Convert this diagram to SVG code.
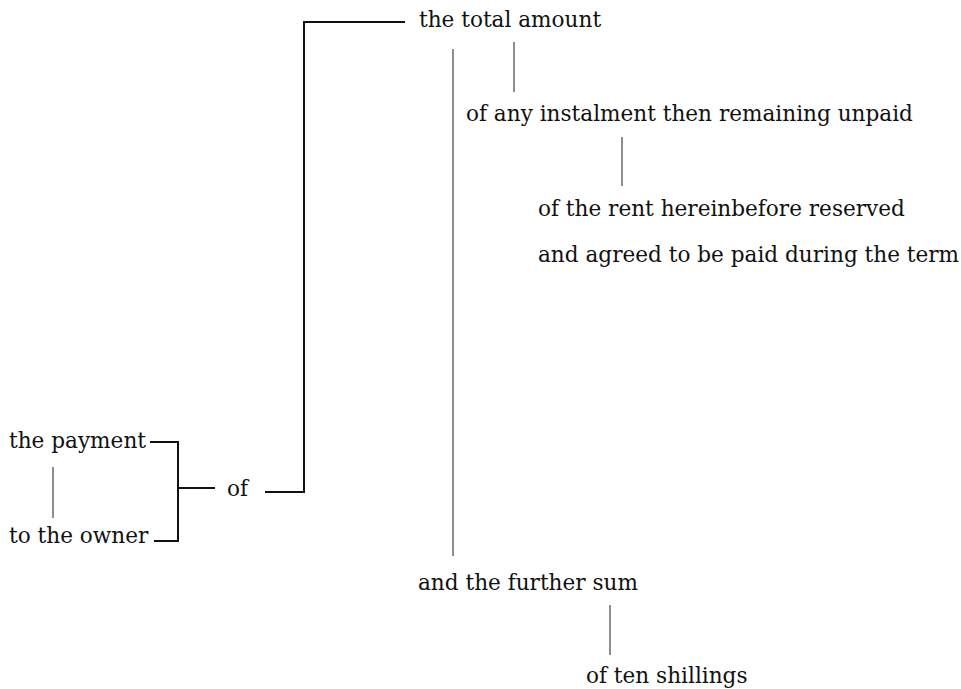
<svg xmlns="http://www.w3.org/2000/svg" width="961" height="689" viewBox="0 0 961 689">
<style>
  text { font-family: "DejaVu Serif", "Liberation Serif", serif; font-size: 21.6px; fill: #111; }
  .br { stroke: #111; stroke-width: 2; fill: none; }
  .rel { stroke: #444; stroke-width: 1.2; fill: none; }
</style>
<rect width="961" height="689" fill="#fff"/>
<g id="connectors">
  <path class="br" d="M150 442 H178 V541 H154"/>
  <path class="br" d="M178 488 H215"/>
  <path class="br" d="M265 492 H304 V22 H405"/>
  <path class="rel" d="M53 467 V518"/>
  <path class="rel" d="M514 42 V92"/>
  <path class="rel" d="M622 137 V186"/>
  <path class="rel" d="M453 49 V556"/>
  <path class="rel" d="M610 605 V655"/>
</g>
<g id="n-payment"><text x="9" y="448">the payment</text></g>
<g id="n-owner"><text x="9" y="543">to the owner</text></g>
<g id="n-of"><text x="227" y="496">of</text></g>
<g id="n-total"><text x="419" y="27">the total amount</text></g>
<g id="n-instalment"><text x="466" y="121">of any instalment then remaining unpaid</text></g>
<g id="n-rent"><text x="538" y="216">of the rent hereinbefore reserved</text></g>
<g id="n-agreed"><text x="538" y="262">and agreed to be paid during the term</text></g>
<g id="n-further"><text x="418" y="590">and the further sum</text></g>
<g id="n-shillings"><text x="586" y="683">of ten shillings</text></g>
</svg>
